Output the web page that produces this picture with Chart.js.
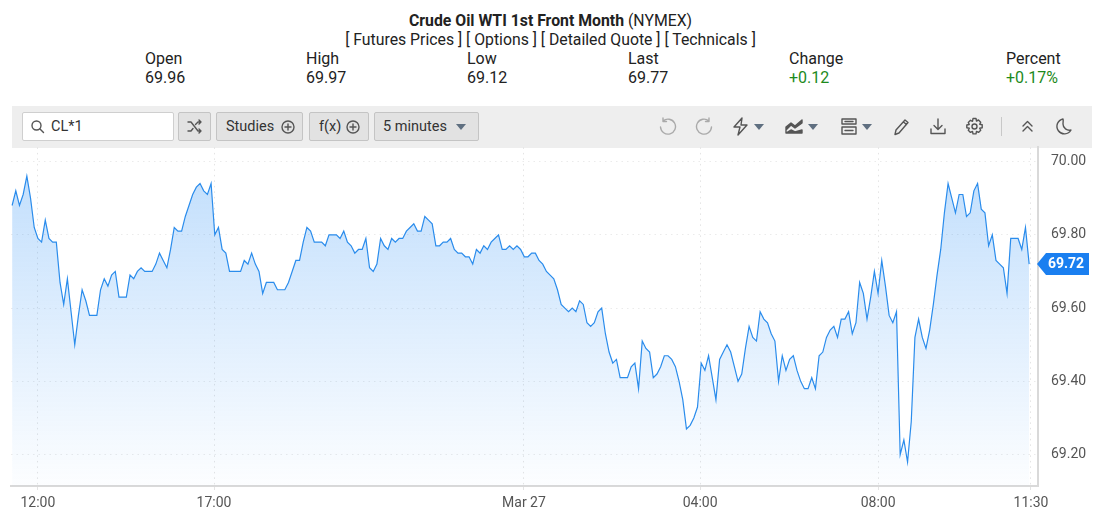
<!DOCTYPE html>
<html>
<head>
    <title>Crude Oil WTI 1st Front Month</title>
    <meta charset="utf-8">
    <script src="https://cdn.jsdelivr.net/npm/chart.js"></script>
    <style>
        html, body { margin: 0; padding: 0; background: #fff; overflow: hidden; }
        body { width: 1096px; height: 513px; position: relative; font-family: Roboto, sans-serif; color: #222; }
        .abs { position: absolute; white-space: nowrap; }
        .head { font-size: 15.8px; line-height: 20px; left: 0; width: 1101px; text-align: center; }
        .quote { font-size: 16px; line-height: 20px; }
        .up { color: #1d8a1d; }
        #toolbar { position: absolute; left: 12px; top: 106px; width: 1080px; height: 42px; background: #eeeeee; }
        .btn { position: absolute; top: 112px; height: 27px; line-height: 27px; background: #e2e2e2; border: 1px solid #c4c4c4; border-radius: 2px;
               font-size: 14.5px; color: #333; text-align: center; box-sizing: content-box; }
        #search { position: absolute; left: 22px; top: 112px; width: 150px; height: 27px; background: #fff; border: 1px solid #cfcfcf; border-radius: 2px; }
        #search span { position: absolute; left: 28px; top: 0; line-height: 27px; font-size: 14.5px; color: #333; }
        svg.ic { position: absolute; fill: none; stroke: #555; stroke-width: 1.4; stroke-linecap: round; stroke-linejoin: round; }
        svg.dim { stroke: #aaa; }
        .caret { position: absolute; width: 0; height: 0; border-left: 5px solid transparent; border-right: 5px solid transparent; border-top: 6px solid #5f6f80; top: 124px; }
        #sep { position: absolute; left: 1001px; top: 117px; width: 1px; height: 19px; background: #c8c8c8; }
        #wrap { position: absolute; left: 0; top: 126px; width: 1096px; height: 387px; pointer-events: none; }
    </style>
</head>
<body>
    <div class="abs head" style="top:11px"><b>Crude Oil WTI 1st Front Month</b> (NYMEX)</div>
    <div class="abs head" style="top:30px">[ Futures Prices ] [ Options ] [ Detailed Quote ] [ Technicals ]</div>

    <div class="abs quote" style="left:145px;top:49px">Open</div>
    <div class="abs quote" style="left:145px;top:68px">69.96</div>
    <div class="abs quote" style="left:306px;top:49px">High</div>
    <div class="abs quote" style="left:306px;top:68px">69.97</div>
    <div class="abs quote" style="left:467px;top:49px">Low</div>
    <div class="abs quote" style="left:467px;top:68px">69.12</div>
    <div class="abs quote" style="left:628px;top:49px">Last</div>
    <div class="abs quote" style="left:628px;top:68px">69.77</div>
    <div class="abs quote" style="left:789px;top:49px">Change</div>
    <div class="abs quote up" style="left:789px;top:68px">+0.12</div>
    <div class="abs quote" style="left:1006px;top:49px">Percent</div>
    <div class="abs quote up" style="left:1006px;top:68px">+0.17%</div>

    <div id="toolbar"></div>
    <div id="search">
        <svg class="ic" style="left:7px;top:6px" width="15" height="15" viewBox="0 0 15 15"><circle cx="6.5" cy="6.5" r="4.5"/><path d="M10 10l3.5 3.5"/></svg>
        <span>CL*1</span>
    </div>
    <div class="btn" style="left:178px;width:31px">
        <svg class="ic" style="left:8px;top:6px" width="15" height="15" viewBox="0 0 15 15"><path d="M1 3h3l7 9h3M1 12h3l2-2.5M8.5 5.5L11 3h3M12 1l2 2-2 2M12 10l2 2-2 2"/></svg>
    </div>
    <div class="btn" style="left:216px;width:85px;text-align:left"><span style="margin-left:9px">Studies</span>
        <svg class="ic" style="left:64px;top:7px" width="14" height="14" viewBox="0 0 14 14"><circle cx="7" cy="7" r="6"/><path d="M7 4v6M4 7h6"/></svg>
    </div>
    <div class="btn" style="left:309px;width:58px;text-align:left"><span style="margin-left:9px">f(x)</span>
        <svg class="ic" style="left:36px;top:7px" width="14" height="14" viewBox="0 0 14 14"><circle cx="7" cy="7" r="6"/><path d="M7 4v6M4 7h6"/></svg>
    </div>
    <div class="btn" style="left:374px;width:103px;text-align:left"><span style="margin-left:8px">5 minutes</span></div>
    <div class="caret" style="left:456px"></div>

    <svg class="ic dim" style="left:658px;top:117px" width="19" height="19" viewBox="0 0 19 19"><path d="M5 4a7.5 7.5 0 1 1-2.500 6M5 1v3.500h3.500"/></svg>
    <svg class="ic dim" style="left:695px;top:117px" width="19" height="19" viewBox="0 0 19 19"><path d="M14 4a7.500 7.500 0 1 0 2.500 6M14 1v3.500h-3.500"/></svg>
    <svg class="ic" style="left:731px;top:117px" width="19" height="19" viewBox="0 0 19 19"><path d="M11 1L3 10h6l-2 8 9-10h-6z"/></svg>
    <div class="caret" style="left:754px"></div>
    <svg class="ic" style="left:785px;top:117px;fill:#555" width="20" height="19" viewBox="0 0 20 19"><path d="M1 16V10l5-4 4 3 7-6v3l-7 5-4-3-5 5zM1 16h16v-3l-7 2-4-2z"/></svg>
    <div class="caret" style="left:808px"></div>
    <svg class="ic" style="left:840px;top:117px" width="18" height="19" viewBox="0 0 18 19"><path d="M2 2h14v5H2zM2 10h14v7H2zM5 4.500h8M5 13.500h8"/></svg>
    <div class="caret" style="left:862px"></div>
    <svg class="ic" style="left:892px;top:117px" width="19" height="19" viewBox="0 0 19 19"><path d="M4 13L13 3l3 2.500L7 16l-4 1.500zM11.500 5l3 2.500"/></svg>
    <svg class="ic" style="left:929px;top:117px" width="18" height="19" viewBox="0 0 18 19"><path d="M9 2v10M5 8.500l4 4 4-4M2 12v4.500h14V12"/></svg>
    <svg class="ic" style="left:965px;top:117px" width="19" height="19" viewBox="0 0 19 19"><circle cx="9.500" cy="9.500" r="2.500"/><path d="M8 1.500h3l.5 2.500 2-1 2.200 2.200-1 2 2.500.5v3l-2.500.5 1 2-2.200 2.200-2-1-.5 2.500H8l-.5-2.500-2 1-2.200-2.200 1-2-2.500-.5V8l2.500-.5-1-2L5.500 3.300l2 1z"/></svg>
    <div id="sep"></div>
    <svg class="ic" style="left:1020px;top:119px" width="15" height="15" viewBox="0 0 15 15"><path d="M3 7l4.500-4.500L12 7M3 12l4.500-4.500L12 12"/></svg>
    <svg class="ic" style="left:1055px;top:117px" width="18" height="19" viewBox="0 0 18 19"><path d="M8 2a7.500 7.500 0 1 0 8 11c-4 1-8-2-8-6 0-2 .5-3.500 0-5z"/></svg>

    <div id="wrap"><canvas id="oil" width="1096" height="387"></canvas></div>

    <script>
        // 5 minute closes
        var prices = [
            69.88, 69.92, 69.88, 69.91, 69.96, 69.90, 69.82, 69.79, 69.78, 69.84, 69.79, 69.78, 69.78,
            69.67, 69.61, 69.68, 69.59, 69.50, 69.58, 69.65, 69.62, 69.58, 69.58, 69.58, 69.65, 69.68,
            69.66, 69.69, 69.70, 69.63, 69.63, 69.63, 69.69, 69.68, 69.70, 69.71, 69.70, 69.70, 69.70,
            69.72, 69.75, 69.73, 69.71, 69.76, 69.82, 69.81, 69.81,
            69.85, 69.88, 69.91, 69.93, 69.94, 69.92, 69.91, 69.94, 69.80, 69.82, 69.76, 69.75, 69.70,
            69.70, 69.70, 69.70, 69.73, 69.72, 69.75, 69.72, 69.70, 69.64, 69.67, 69.67, 69.67, 69.65,
            69.65, 69.65, 69.67, 69.70, 69.73, 69.73, 69.78, 69.82, 69.81, 69.78, 69.78, 69.78, 69.77,
            69.80, 69.80, 69.80, 69.79, 69.81, 69.78, 69.77, 69.75,
            69.76, 69.76, 69.79, 69.71, 69.70, 69.72, 69.79, 69.77, 69.76, 69.79, 69.78, 69.79, 69.79,
            69.81, 69.82, 69.83, 69.81, 69.81, 69.85, 69.84, 69.83, 69.77, 69.77, 69.78, 69.78, 69.79,
            69.76, 69.75, 69.75, 69.74, 69.74, 69.72, 69.76, 69.75, 69.77, 69.76, 69.78, 69.79, 69.80,
            69.76, 69.76, 69.77, 69.76, 69.77, 69.76, 69.74,
            69.74, 69.75, 69.75, 69.73, 69.72, 69.70, 69.69, 69.68, 69.65, 69.61, 69.60, 69.59, 69.60,
            69.59, 69.62, 69.61, 69.56, 69.55, 69.56, 69.59, 69.60, 69.53, 69.48, 69.45, 69.46, 69.41,
            69.41, 69.41, 69.44, 69.45, 69.38, 69.51, 69.49, 69.48, 69.41, 69.42, 69.44, 69.47, 69.47,
            69.46, 69.44, 69.40,
            69.35, 69.27, 69.28, 69.30, 69.33, 69.45, 69.43, 69.47, 69.41, 69.35, 69.46, 69.48, 69.50,
            69.48, 69.44, 69.40, 69.42, 69.49, 69.55, 69.52, 69.51, 69.59, 69.57, 69.56, 69.53, 69.51,
            69.40, 69.47, 69.43, 69.46, 69.47, 69.43, 69.40, 69.38, 69.38, 69.41, 69.38, 69.47, 69.48,
            69.52, 69.54, 69.55, 69.52, 69.57, 69.57, 69.59, 69.53, 69.56,
            69.67, 69.64, 69.57, 69.63, 69.70, 69.64, 69.73, 69.66, 69.58, 69.56, 69.59, 69.20, 69.24,
            69.18, 69.29, 69.52, 69.57, 69.52, 69.49, 69.54, 69.61, 69.69, 69.76, 69.86, 69.94, 69.90,
            69.86, 69.91, 69.91, 69.85, 69.86, 69.92, 69.94, 69.87, 69.86, 69.77, 69.80, 69.73, 69.72,
            69.71, 69.64, 69.79, 69.79, 69.79, 69.76, 69.82, 69.72
        ];

        var timeTicks = [7, 54.8, 138.9, 186.7, 235, 276.5];
        var timeLabels = ['12:00', '17:00', 'Mar 27', '04:00', '08:00', '11:30'];
        var priceTicks = [69.2, 69.4, 69.6, 69.8, 70.0];
        var lastPrice = 69.72;

        var points = prices.map(function (p, i) {
            return { x: i, y: p };
        });

        // blue flag with the last price, sits on the right axis
        var lastPriceFlag = {
            id: 'lastPriceFlag',
            afterDraw: function (chart) {
                var c = chart.ctx;
                var y = chart.scales.y.getPixelForValue(lastPrice);
                var left = chart.chartArea.right;
                c.save();
                c.fillStyle = '#1a7ff0';
                c.beginPath();
                c.moveTo(left - 1, y);
                c.lineTo(left + 8, y - 11);
                c.lineTo(1089, y - 11);
                c.lineTo(1089, y + 11);
                c.lineTo(left + 8, y + 11);
                c.closePath();
                c.fill();
                c.fillStyle = '#fff';
                c.font = 'bold 14px Roboto';
                c.textAlign = 'center';
                c.textBaseline = 'middle';
                c.fillText(lastPrice.toFixed(2), 1066, y + 0.5);
                c.restore();
            }
        };

        var ctx = document.getElementById('oil').getContext('2d');
        var fillGrad = ctx.createLinearGradient(0, 42, 0, 360);
        fillGrad.addColorStop(0, 'rgba(30,136,245,0.27)');
        fillGrad.addColorStop(1, 'rgba(30,136,245,0.01)');

        new Chart(ctx, {
            type: 'line',
            data: {
                datasets: [{
                    data: points,
                    borderColor: '#2a8cec',
                    borderWidth: 1.2,
                    backgroundColor: fillGrad,
                    fill: 'start',
                    pointRadius: 0,
                    tension: 0
                }]
            },
            options: {
                responsive: false,
                animation: false,
                parsing: false,
                layout: { padding: { left: 11, right: 0, top: 0, bottom: 0 } },
                plugins: { legend: { display: false }, tooltip: { enabled: false } },
                scales: {
                    x: {
                        type: 'linear',
                        min: -0.3,
                        max: 278.4,
                        afterBuildTicks: function (axis) {
                            axis.ticks = timeTicks.map(function (v) { return { value: v }; });
                        },
                        afterFit: function (axis) { axis.height = 27; },
                        grid: { color: '#e4e4e4', drawTicks: true, tickLength: 4 },
                        border: { display: true, color: '#d9d9d9', width: 2, dash: [1.5, 4] },
                        ticks: {
                            autoSkip: false,
                            maxRotation: 0,
                            padding: 5,
                            color: '#555',
                            font: { family: 'Roboto', size: 14 },
                            callback: function (v) {
                                return timeLabels[timeTicks.indexOf(v)];
                            }
                        }
                    },
                    y: {
                        position: 'right',
                        min: 69.1145,
                        max: 70.0385,
                        afterBuildTicks: function (axis) {
                            axis.ticks = priceTicks.map(function (v) { return { value: v }; });
                        },
                        afterFit: function (axis) { axis.width = 58; },
                        grid: { color: '#ebebeb', drawTicks: false },
                        border: { display: true, color: '#d9d9d9', width: 2, dash: [1.5, 4] },
                        ticks: {
                            padding: 13,
                            color: '#555',
                            font: { family: 'Roboto', size: 14 },
                            callback: function (v) { return v.toFixed(2); }
                        }
                    }
                }
            },
            plugins: [lastPriceFlag]
        });
    </script>
</body>
</html>
